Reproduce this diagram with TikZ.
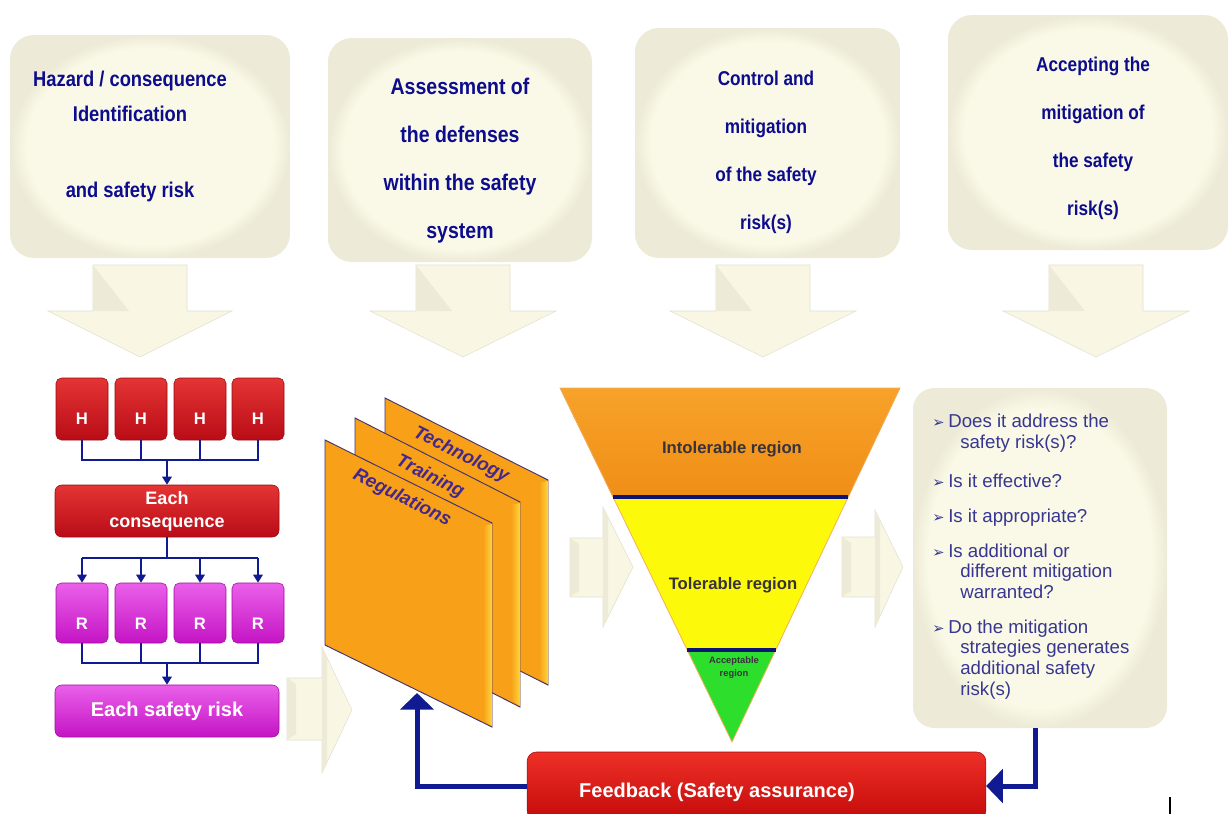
\documentclass[tikz,border=0pt]{standalone}
\usepackage{fontspec}
\setmainfont{Liberation Sans}
\newfontfamily\narrowsf[FakeStretch=0.86]{Liberation Sans}
\newfontfamily\arrowsf{DejaVu Sans}
\usetikzlibrary{arrows.meta}

\definecolor{capcream}{RGB}{250,249,231}
\definecolor{capedge}{RGB}{237,235,215}
\definecolor{capnavy}{RGB}{12,12,140}
\definecolor{arrcream}{RGB}{249,247,228}
\definecolor{arrshade}{RGB}{237,235,216}
\definecolor{arrline}{RGB}{225,224,208}
\definecolor{hredtop}{RGB}{228,52,52}
\definecolor{hred}{RGB}{185,12,22}
\definecolor{hredline}{RGB}{150,10,20}
\definecolor{rmagtop}{RGB}{234,96,234}
\definecolor{rmag}{RGB}{196,20,196}
\definecolor{rmagline}{RGB}{160,10,160}
\definecolor{busnavy}{RGB}{16,26,145}
\definecolor{pageorange}{RGB}{247,160,24}
\definecolor{pageedge}{RGB}{255,214,60}
\definecolor{pageline}{RGB}{70,50,110}
\definecolor{pagetext}{RGB}{70,40,140}
\definecolor{intoltop}{RGB}{247,162,42}
\definecolor{intolorange}{RGB}{240,142,22}
\definecolor{tolyellow}{RGB}{252,250,10}
\definecolor{accgreen}{RGB}{45,222,45}
\definecolor{regiontext}{RGB}{55,50,60}
\definecolor{qtext}{RGB}{55,55,145}
\definecolor{fbredtop}{RGB}{238,48,40}
\definecolor{fbred}{RGB}{196,10,10}

\pgfdeclareradialshading{capshade}{\pgfpoint{0bp}{0bp}}{color(0bp)=(capcream); color(22bp)=(capcream); color(25bp)=(capedge); color(50bp)=(capedge)}

\newcommand{\qbul}{\makebox[12pt][l]{\arrowsf\fontsize{11}{11}\selectfont ➢}}

\begin{document}
\begin{tikzpicture}[x=0.75pt,y=0.75pt,yscale=-1,
  captext/.style={text=capnavy, align=center, anchor=north, inner sep=0pt},
  downarr/.style={fill=arrcream, draw=arrline, line width=0.4pt},
  arrface/.style={fill=arrshade},
  hbox/.style={rectangle, rounded corners=4pt, minimum width=39pt, minimum height=46.5pt, top color=hredtop, bottom color=hred, draw=hredline, line width=0.4pt, text=white, font=\bfseries\fontsize{12.5}{12.5}\selectfont, text height=22.5pt, text depth=0pt},
  rbox/.style={hbox, top color=rmagtop, bottom color=rmag, draw=rmagline, minimum height=45pt, text height=24pt},
  wbox/.style={rectangle, rounded corners=5pt, minimum width=168pt, minimum height=39pt, draw=hredline, line width=0.4pt, top color=hredtop, bottom color=hred, text=white, align=center},
  bus/.style={draw=busnavy, line width=1.8pt},
  bustip/.style={bus, -{Triangle[length=6pt,width=7pt]}},
  page/.style={fill=pageorange, draw=pageline, line width=0.7pt},
  bevel/.style={left color=pageorange, right color=pageedge},
  pagelabel/.style={text=pagetext, font=\bfseries\itshape\fontsize{14}{14}\selectfont, rotate=-26.6, inner sep=0pt},
  sepline/.style={draw=busnavy!80!black, line width=2.4pt},
  regionlabel/.style={text=regiontext, font=\bfseries\fontsize{12.5}{12.5}\selectfont, inner sep=0pt},
  fbarrow/.style={draw=busnavy, line width=3.75pt, -{Triangle[length=12.5pt,width=25pt]}}]
\useasboundingbox (0,0) rectangle (1229,814);

%Shape: Step boxes
\shade[shading=capshade, rounded corners=18pt] (10,35) rectangle (290,258);
\shade[shading=capshade, rounded corners=18pt] (328,38) rectangle (592,262);
\shade[shading=capshade, rounded corners=18pt] (635,28) rectangle (900,258);
\shade[shading=capshade, rounded corners=18pt] (948,15) rectangle (1228,250);

% Text Node
\node[captext, font=\narrowsf\bfseries\fontsize{16}{26.25}\selectfont] (step1) at (130,71) {Hazard / consequence\\Identification\\[30.75pt]and safety risk};
% Text Node
\node[captext, font=\narrowsf\bfseries\fontsize{17}{36}\selectfont] (step2) at (460,78) {Assessment of\\the defenses\\within the safety\\system};
% Text Node
\node[captext, font=\narrowsf\bfseries\fontsize{15}{36}\selectfont] (step3) at (766,71) {Control and\\mitigation\\of the safety\\risk(s)};
% Text Node
\node[captext, font=\narrowsf\bfseries\fontsize{15}{36}\selectfont] (step4) at (1093,57) {Accepting the\\mitigation of\\the safety\\risk(s)};

%Shape: Down arrows
\draw[downarr] (93,265) -- (187,265) -- (187,311) -- (232,311) -- (140,357) -- (48,311) -- (93,311) -- cycle;
\fill[arrface] (93,265) -- (129,311) -- (93,311) -- cycle;
\draw[downarr] (416,265) -- (510,265) -- (510,311) -- (556,311) -- (463,357) -- (370,311) -- (416,311) -- cycle;
\fill[arrface] (416,265) -- (452,311) -- (416,311) -- cycle;
\draw[downarr] (716,265) -- (810,265) -- (810,311) -- (856,311) -- (763,357) -- (670,311) -- (716,311) -- cycle;
\fill[arrface] (716,265) -- (752,311) -- (716,311) -- cycle;
\draw[downarr] (1049,265) -- (1143,265) -- (1143,311) -- (1189,311) -- (1096,357) -- (1003,311) -- (1049,311) -- cycle;
\fill[arrface] (1049,265) -- (1085,311) -- (1049,311) -- cycle;

%Shape: Right arrows
\draw[downarr] (287,678) -- (322,678) -- (322,647) -- (352,710) -- (322,773) -- (322,740) -- (287,740) -- cycle;
\fill[arrface] (287,678) -- (296,684) -- (296,734) -- (287,740) -- cycle;
\fill[arrface] (322,647) -- (327,657) -- (327,763) -- (322,773) -- cycle;
\draw[downarr] (570,538) -- (603,538) -- (603,507) -- (633,567) -- (603,627) -- (603,597) -- (570,597) -- cycle;
\fill[arrface] (570,538) -- (579,544) -- (579,591) -- (570,597) -- cycle;
\fill[arrface] (603,507) -- (608,517) -- (608,617) -- (603,627) -- cycle;
\draw[downarr] (842,537) -- (875,537) -- (875,510) -- (903,567) -- (875,627) -- (875,597) -- (842,597) -- cycle;
\fill[arrface] (842,537) -- (851,543) -- (851,591) -- (842,597) -- cycle;
\fill[arrface] (875,510) -- (880,520) -- (880,617) -- (875,627) -- cycle;

% Hazards
\node[hbox] (h1) at (82,409) {H};
\node[hbox] (h2) at (141,409) {H};
\node[hbox] (h3) at (200,409) {H};
\node[hbox] (h4) at (258,409) {H};
\node[wbox, font=\bfseries\fontsize{13.5}{17.25}\selectfont] (cons) at (167,511) {Each\\consequence};
% Risks
\node[rbox] (r1) at (82,613) {R};
\node[rbox] (r2) at (141,613) {R};
\node[rbox] (r3) at (200,613) {R};
\node[rbox] (r4) at (258,613) {R};
\node[wbox, top color=rmagtop, bottom color=rmag, draw=rmagline, font=\bfseries\fontsize{15}{15}\selectfont] (srisk) at (167,711) {Each safety risk};

\coordinate (hbus) at (167,460);
\coordinate (rbus) at (167,558);
\coordinate (sbus) at (167,663);
\draw[bus] (h1.south) |- (h4.south |- hbus) -- (h4.south);
\draw[bus] (h2.south) -- (h2.south |- hbus);
\draw[bus] (h3.south) -- (h3.south |- hbus);
\draw[bustip] (hbus) -- (cons.north);
\draw[bus] (cons.south) -- (rbus);
\draw[bus] (r1.north |- rbus) -- (r4.north |- rbus);
\draw[bustip] (r1.north |- rbus) -- (r1.north);
\draw[bustip] (r2.north |- rbus) -- (r2.north);
\draw[bustip] (r3.north |- rbus) -- (r3.north);
\draw[bustip] (r4.north |- rbus) -- (r4.north);
\draw[bus] (r1.south) |- (r4.south |- sbus) -- (r4.south);
\draw[bus] (r2.south) -- (r2.south |- sbus);
\draw[bus] (r3.south) -- (r3.south |- sbus);
\draw[bustip] (sbus) -- (srisk.north);

%Shape: Defense layers
\draw[page] (385,398) -- (548,480) -- (548,685) -- (385,603) -- cycle;
\shade[bevel] (548,481) -- (548,684) -- (539,678) -- (539,483) -- cycle;
\draw[page] (355,418) -- (520,502) -- (520,707) -- (355,623) -- cycle;
\shade[bevel] (520,503) -- (520,706) -- (511,700) -- (511,505) -- cycle;
\draw[page] (325,440) -- (492,523) -- (492,727) -- (325,645) -- cycle;
\shade[bevel] (492,524) -- (492,726) -- (483,720) -- (483,526) -- cycle;
\node[pagelabel] (tech) at (461,455) {Technology};
\node[pagelabel] (train) at (430,477) {Training};
\node[pagelabel] (regs) at (402,498) {Regulations};
\coordinate (regtip) at (417,693);

%Shape: Risk triangle
\fill[top color=intoltop, bottom color=intolorange] (560,388) -- (900,388) -- (848,497) -- (613,497) -- cycle;
\fill[tolyellow] (613,497) -- (848,497) -- (776,650) -- (687,650) -- cycle;
\fill[accgreen] (687,650) -- (776,650) -- (732,742) -- cycle;
\draw[draw=intolorange!70!white, line width=0.6pt] (560,388) -- (900,388) -- (732,742) -- cycle;
\draw[sepline] (613,497) -- (848,497);
\draw[sepline] (687,650) -- (776,650);
\node[regionlabel] (intol) at (732,449) {Intolerable region};
\node[regionlabel] (tol) at (733,585) {Tolerable region};
\node[regionlabel, font=\bfseries\fontsize{7}{9.75}\selectfont, align=center] (acc) at (734,668) {Acceptable\\region};

%Shape: Questions box
\node[shade, shading=capshade, rounded corners=16pt, minimum width=190.5pt, minimum height=255pt] (qbox) at (1040,558) {};
\node[anchor=north west, inner sep=0pt, align=left, text=qtext, font=\fontsize{14}{15.5}\selectfont] (qlist) at (932,414) {%
\qbul Does it address the\\
\hspace*{21pt}safety risk(s)?\\[14pt]
\qbul Is it effective?\\[10.5pt]
\qbul Is it appropriate?\\[10.5pt]
\qbul Is additional or\\
\hspace*{21pt}different mitigation\\
\hspace*{21pt}warranted?\\[10.5pt]
\qbul Do the mitigation\\
\hspace*{21pt}strategies generates\\
\hspace*{21pt}additional safety\\
\hspace*{21pt}risk(s)};
\coordinate (qout) at (1035,728);

% Feedback loop
\node[rectangle, rounded corners=7pt, minimum width=344pt, minimum height=51pt, top color=fbredtop, bottom color=fbred, draw=fbred!80!black, line width=0.4pt] (fb) at (756.5,786) {};
\node[text=white, font=\bfseries\fontsize{15}{15}\selectfont, inner sep=0pt] (fbtext) at (717,792) {Feedback (Safety assurance)};
\draw[fbarrow] (fb.west) -| (regtip);
\draw[fbarrow] (qout) |- (fb.east);

\draw[line width=0.8pt] (1170,797) -- (1170,814);

\end{tikzpicture}
\end{document}
